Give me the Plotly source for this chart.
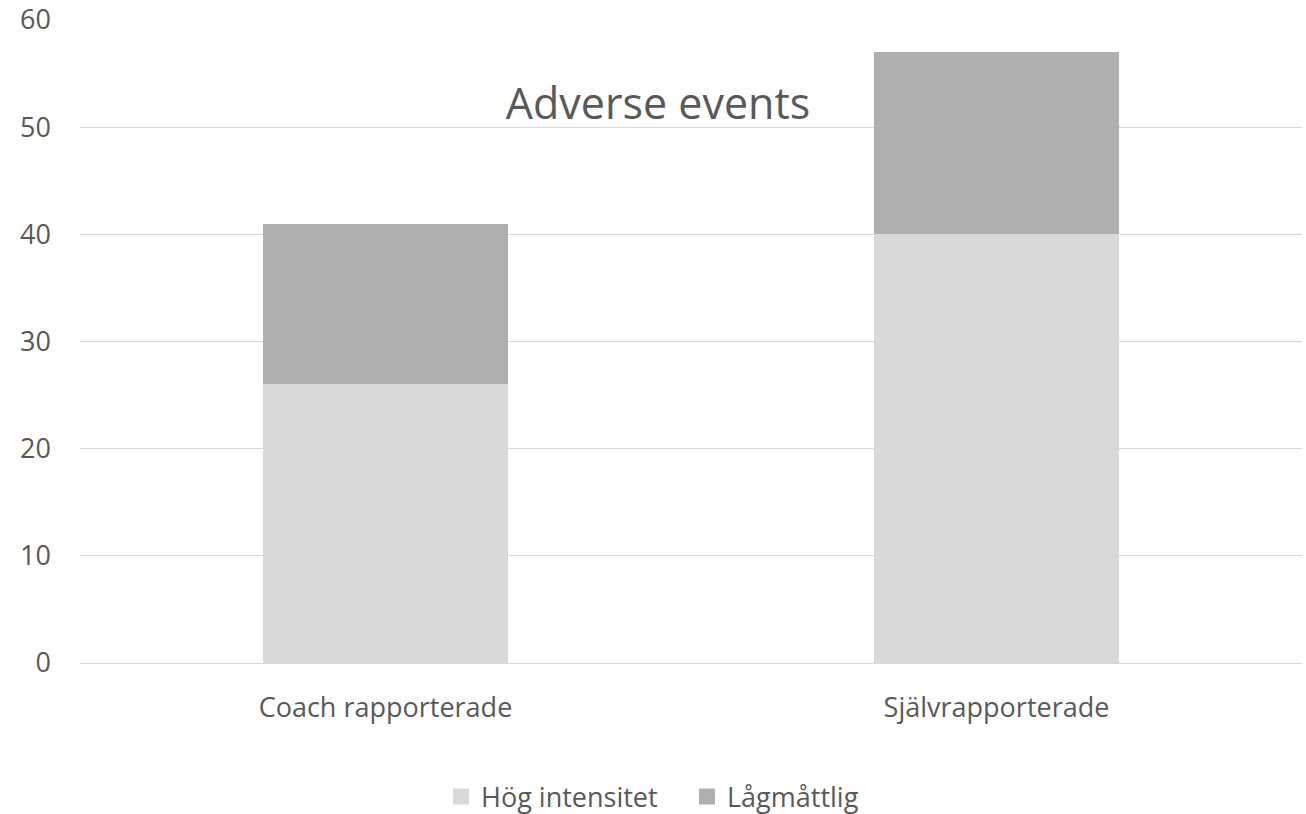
import plotly.graph_objects as go

categories = ["Coach rapporterade", "Självrapporterade"]
hog_intensitet = [26, 40]
lagmattlig = [15, 17]
series_names = ["Hög intensitet", "Lågmåttlig"]
series_colors = ["#D9D9D9", "#AFAFAF"]
y_ticks = [0, 10, 20, 30, 40, 50, 60]

FONT = "Open Sans"
TXT = "#595959"

fig = go.Figure()
for vals, name, col in zip([hog_intensitet, lagmattlig], series_names, series_colors):
    fig.add_trace(go.Bar(x=categories, y=vals, name=name, showlegend=False,
                         marker=dict(color=col, line=dict(width=0))))
# legend entries with larger square swatches
for name, col in zip(series_names, series_colors):
    fig.add_trace(go.Scatter(x=[None], y=[None], mode="markers", name=name,
                             marker=dict(symbol="square", size=18, color=col),
                             hoverinfo="skip"))

fig.update_layout(
    barmode="stack",
    bargap=0.6,
    width=1306, height=814,
    margin=dict(l=80, r=4, t=20, b=151, autoexpand=False),
    paper_bgcolor="white", plot_bgcolor="white",
    font=dict(family=FONT, color=TXT, size=27),
    title=dict(text="Adverse events", xref="container", yref="container",
               x=658/1306, y=1-104/814, xanchor="center", yanchor="middle",
               font=dict(family=FONT, size=43, color=TXT)),
    legend=dict(orientation="h", xref="container", yref="container",
                x=441/1306, y=1-797/814, xanchor="left", yanchor="middle",
                font=dict(family=FONT, size=27, color=TXT),
                itemsizing="trace", traceorder="normal", itemwidth=30,
                entrywidth=201, entrywidthmode="pixels"),
    xaxis=dict(showgrid=False, showline=False, ticks="", ticklabelstandoff=26,
               automargin=False,
               tickfont=dict(family=FONT, size=27, color=TXT)),
    yaxis=dict(range=[0, 60], tickvals=y_ticks, showgrid=True, gridcolor="#D9D9D9",
               gridwidth=1, zeroline=True, zerolinecolor="#D9D9D9", zerolinewidth=1,
               showline=False, ticks="", ticklabelstandoff=28, ticklabeloverflow="allow",
               automargin=False,
               tickfont=dict(family=FONT, size=27, color=TXT)),
)

fig.write_html("out.html")
